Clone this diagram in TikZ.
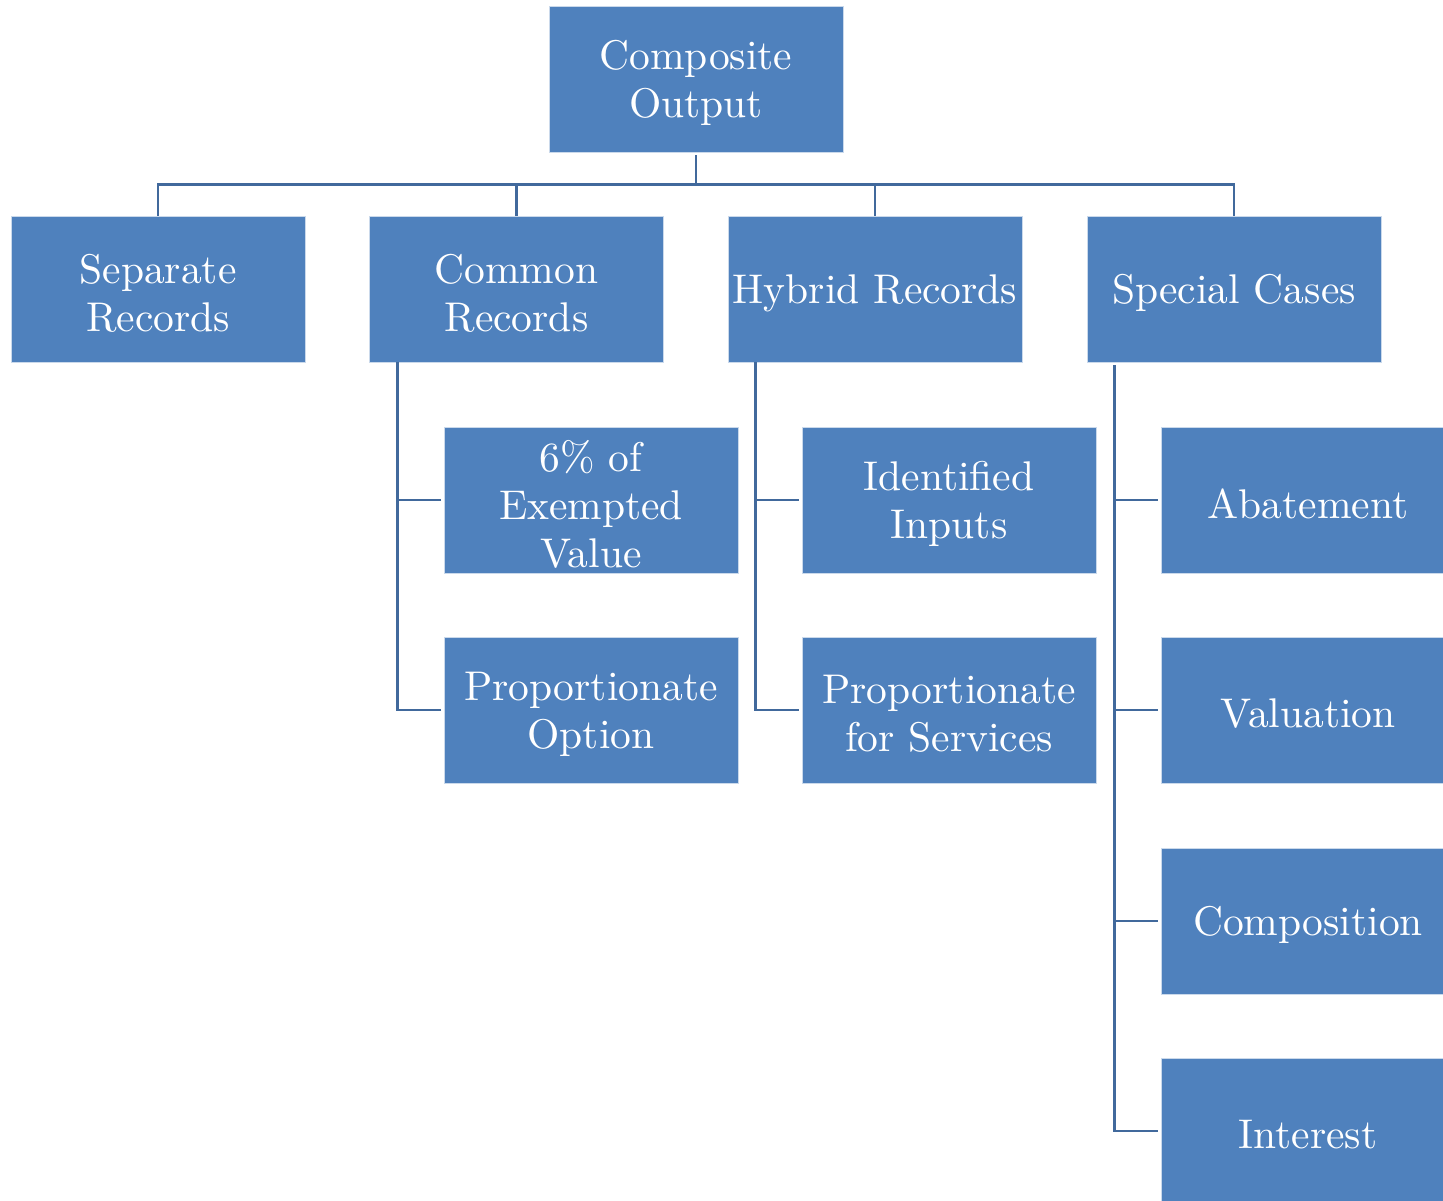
\documentclass[tikz,border=0pt]{standalone}
\usepackage{fontspec}
\setmainfont{lmroman10-regular.otf}
\usetikzlibrary{calc}
\definecolor{boxblue}{HTML}{4F81BD}
\definecolor{lineblue}{HTML}{41699C}
\begin{document}
\begin{tikzpicture}[x=1pt,y=-1pt,
  box/.style={fill=boxblue,draw=white!70!boxblue,line width=0.6pt,minimum width=294pt,minimum height=146pt,
    inner sep=0pt},
  lbl/.style={text=white,inner sep=0pt,align=center,yshift=-4pt,font=\fontsize{41.5}{48}\selectfont},
  conn/.style={draw=lineblue,line width=2.6pt}]
\useasboundingbox (0,0) rectangle (1443,1201);
\clip (0,0) rectangle (1443,1201);
\node[box,label={[lbl]center:Composite\\Output}] (top) at (696,79) {};
\node[box,label={[lbl]center:Separate\\Records}] (sep) at (158,289) {};
\node[box,label={[lbl]center:Common\\Records}] (com) at (516.5,289) {};
\node[box,label={[lbl]center:Hybrid Records}] (hyb) at (875,289) {};
\node[box,label={[lbl]center:Special Cases}] (spe) at (1234,289) {};
\node[box,label={[lbl]center:6\% of\\Exempted\\Value}] (c1) at (591,500) {};
\node[box,label={[lbl]center:Proportionate\\Option}] (c2) at (591,710) {};
\node[box,label={[lbl]center:Identified\\Inputs}] (h1) at (949,500) {};
\node[box,label={[lbl]center:Proportionate\\for Services}] (h2) at (949,710) {};
\node[box,label={[lbl]center:Abatement}] (s1) at (1308,500) {};
\node[box,label={[lbl]center:Valuation}] (s2) at (1308,710) {};
\node[box,label={[lbl]center:Composition}] (s3) at (1308,921) {};
\node[box,label={[lbl]center:Interest}] (s4) at (1308,1131) {};
\foreach \c in {sep,com,hyb,spe}
  \draw[conn] ($(top.south)+(0,3)$) -- ++(0,29) -| (\c.north);
\foreach \p/\a/\b in {com/c1/c2,hyb/h1/h2}{
  \draw[conn] ($(\p.south west)+(28,3)$) |- ($(\b.west)+(-3,0)$);
  \draw[conn] ($(\p.south west)+(28,0)$) |- ($(\a.west)+(-3,0)$);
}
\foreach \q in {s1,s2,s3,s4}
  \draw[conn] ($(spe.south west)+(28,3)$) |- ($(\q.west)+(-3,0)$);
\end{tikzpicture}
\end{document}
